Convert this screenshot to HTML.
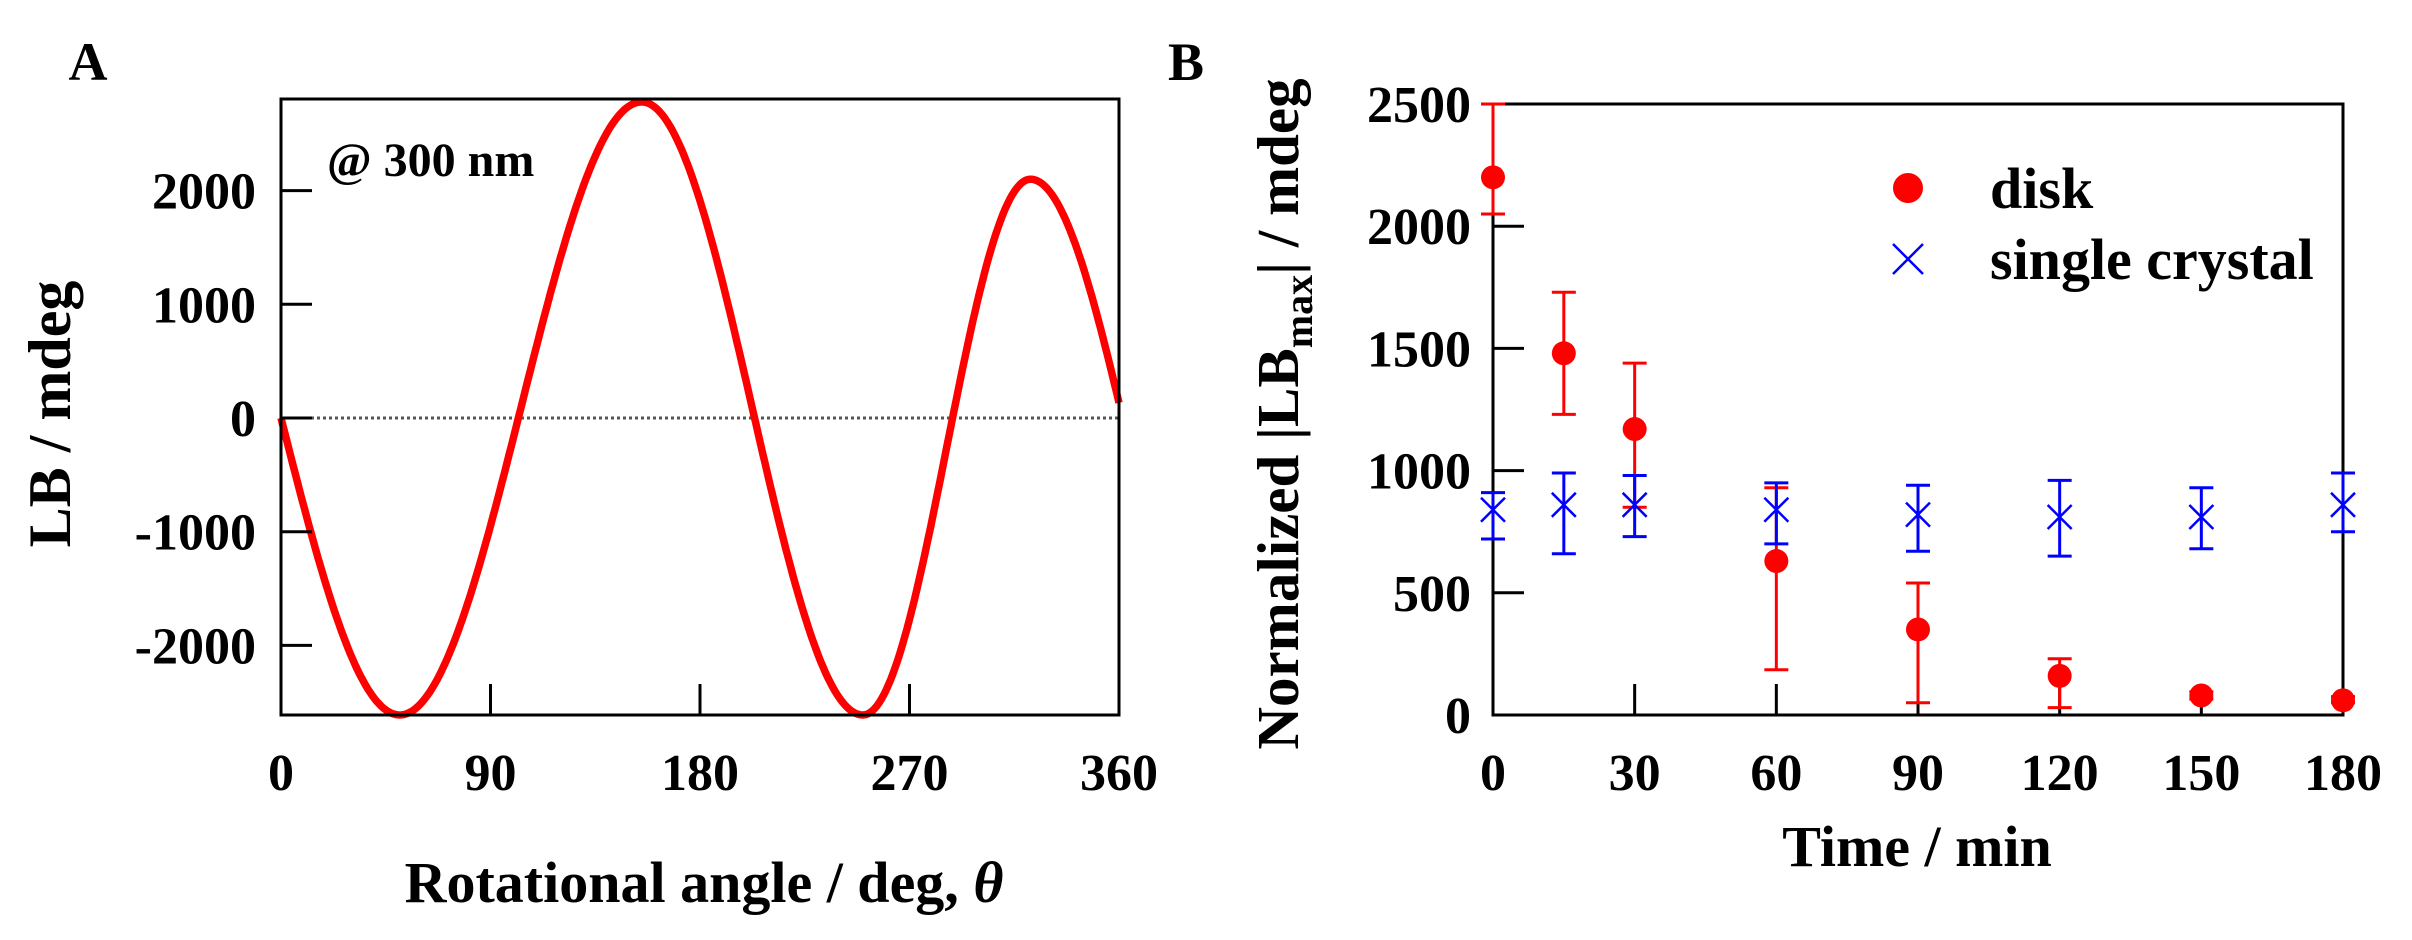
<!DOCTYPE html>
<html><head><meta charset="utf-8"><style>
html,body{margin:0;padding:0;background:#fff;}
svg{display:block;}
text{font-family:"Liberation Serif",serif;font-weight:bold;fill:#000;}
</style></head><body>
<svg id="s" width="2412" height="940" viewBox="0 0 2412 940" xmlns="http://www.w3.org/2000/svg">
<text x="88" y="80" font-size="54" text-anchor="middle">A</text>
<text x="1186" y="80" font-size="54" text-anchor="middle">B</text>
<g id="a"></g><g id="b"></g>
</svg>
<script>
var NS="http://www.w3.org/2000/svg";
function el(p,t,at,txt){var e=document.createElementNS(NS,t);for(var k in at)e.setAttribute(k,at[k]);if(txt!==undefined)e.textContent=txt;p.appendChild(e);return e;}
var TF=52;
// Panel A
var A=document.getElementById('a');
var L=281,R=1119,T=99,B=715;
function ax(a){return L+(a/360)*(R-L);}
function ay(v){return 418-v*0.1137;}
el(A,'line',{x1:L,y1:418,x2:R,y2:418,stroke:'#555','stroke-width':3,'stroke-dasharray':'3,3'});
var d="";
function val(a){
 if(a<=51){return -2612*Math.sin(Math.PI/2*a/51);}
 var seg=[[51,-2612,155,2780],[155,2780,250,-2612],[250,-2612,322,2100]];
 for(var i=0;i<seg.length;i++){var s=seg[i];if(a<=s[2]){var t=(a-s[0])/(s[2]-s[0]);return s[1]+(s[3]-s[1])*(1-Math.cos(Math.PI*t))/2;}}
 var t=(a-322)/85;return 2100-(4712)*(1-Math.cos(Math.PI*t))/2;
}
for(var a=0;a<=360;a+=1){d+=(a?"L":"M")+ax(a).toFixed(1)+","+ay(val(a)).toFixed(1);}
el(A,'path',{d:d,fill:'none',stroke:'#f00','stroke-width':7.5,'stroke-linejoin':'round'});
el(A,'rect',{x:L,y:T,width:R-L,height:B-T,fill:'none',stroke:'#000','stroke-width':3});
[2000,1000,0,-1000,-2000].forEach(function(v){var y=ay(v);el(A,'line',{x1:L,y1:y,x2:L+31,y2:y,stroke:'#000','stroke-width':3});
 el(A,'text',{x:256,y:y+18,'font-size':TF,'text-anchor':'end'},v);});
[0,90,180,270,360].forEach(function(v){var x=ax(v);el(A,'line',{x1:x,y1:B,x2:x,y2:B-31,stroke:'#000','stroke-width':3});
 el(A,'text',{x:x,y:790,'font-size':TF,'text-anchor':'middle'},v);});
el(A,'text',{x:327,y:176,'font-size':48},'@ 300 nm');
var xt=el(A,'text',{x:704,y:902,'font-size':58,'text-anchor':'middle'},'Rotational angle / deg, ');
el(xt,'tspan',{'font-style':'italic'},'θ');
el(A,'text',{x:0,y:0,'font-size':60,'text-anchor':'middle',transform:'translate(70,414) rotate(-90)'},'LB / mdeg');
// Panel B
var Bg=document.getElementById('b');
var L2=1493,R2=2343,T2=104,B2=715;
function bx(t){return L2+t/180*(R2-L2);}
function by(v){return B2-v*(B2-T2)/2500;}
var disk=[[0,2200,2050,2500],[15,1480,1230,1730],[30,1170,850,1440],[60,630,185,930],[90,350,50,540],[120,160,30,230],[150,80,65,95],[180,60,50,75]];
var cry=[[0,840,720,910],[15,860,660,990],[30,860,730,980],[60,840,700,950],[90,820,670,940],[120,810,650,960],[150,810,680,930],[180,860,750,990]];
el(Bg,'rect',{x:L2,y:T2,width:R2-L2,height:B2-T2,fill:'none',stroke:'#000','stroke-width':3});
[500,1000,1500,2000,2500,0].forEach(function(v){var y=by(v);el(Bg,'line',{x1:L2,y1:y,x2:L2+31,y2:y,stroke:'#000','stroke-width':3});
 el(Bg,'text',{x:1471,y:y+18,'font-size':TF,'text-anchor':'end'},v);});
[0,30,60,90,120,150,180].forEach(function(v){var x=bx(v);el(Bg,'line',{x1:x,y1:B2,x2:x,y2:B2-31,stroke:'#000','stroke-width':3});
 el(Bg,'text',{x:x,y:790,'font-size':TF,'text-anchor':'middle'},v);});
function eb(p,x,lo,hi,c){el(p,'line',{x1:x,y1:by(lo),x2:x,y2:by(hi),stroke:c,'stroke-width':3});
 el(p,'line',{x1:x-12,y1:by(lo),x2:x+12,y2:by(lo),stroke:c,'stroke-width':3});
 el(p,'line',{x1:x-12,y1:by(hi),x2:x+12,y2:by(hi),stroke:c,'stroke-width':3});}
disk.forEach(function(p){var x=bx(p[0]);eb(Bg,x,p[2],p[3],'#f00');el(Bg,'circle',{cx:x,cy:by(p[1]),r:12,fill:'#f00'});});
function cross(p,x,y,s,c){el(p,'path',{d:'M'+(x-s)+','+(y-s)+'L'+(x+s)+','+(y+s)+'M'+(x-s)+','+(y+s)+'L'+(x+s)+','+(y-s),stroke:c,'stroke-width':2.5,fill:'none'});}
cry.forEach(function(p){var x=bx(p[0]);eb(Bg,x,p[2],p[3],'#00f');cross(Bg,x,by(p[1]),12,'#00f');});
el(Bg,'circle',{cx:1908,cy:188,r:15,fill:'#f00'});
cross(Bg,1908,259,15,'#00f');
el(Bg,'text',{x:1990,y:208,'font-size':58},'disk');
el(Bg,'text',{x:1990,y:279,'font-size':58},'single crystal');
el(Bg,'text',{x:1917,y:866,'font-size':58,'text-anchor':'middle'},'Time / min');
var yt=el(Bg,'text',{x:0,y:0,'font-size':59,'text-anchor':'middle',transform:'translate(1298,414) rotate(-90)'},'Normalized |LB');
el(yt,'tspan',{'font-size':40,dy:14},'max');
el(yt,'tspan',{dy:-14},'| / mdeg');
</script>
</body></html>
